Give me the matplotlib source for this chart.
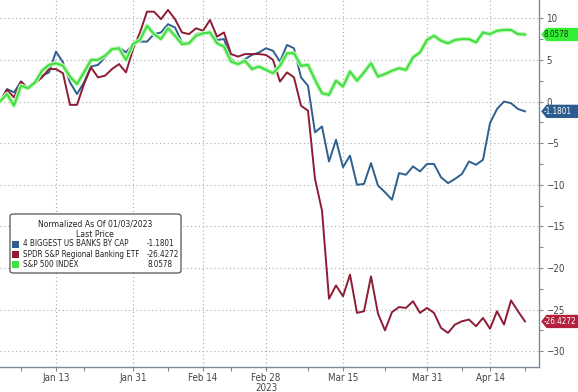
import numpy as np
import pandas as pd
import matplotlib
matplotlib.use('Agg')
import matplotlib.pyplot as plt
from matplotlib.patches import Polygon, FancyBboxPatch, Rectangle
from matplotlib.transforms import blended_transform_factory

# narrow type, close to the terminal look
plt.rcParams['font.family'] = ['Liberation Sans Narrow', 'DejaVu Sans']
plt.rcParams['font.stretch'] = 'condensed'

# trading days 2023-01-03 .. 2023-04-21
dates = pd.bdate_range('2023-01-03', '2023-04-21')
holidays = pd.to_datetime(['2023-01-16', '2023-02-20', '2023-04-07'])
dates = dates[~dates.isin(holidays)]

banks4 = [0.0, 1.5, 1.1, 2.4, 1.6, 2.3, 3.1, 3.5, 6.0, 4.7,
          2.3, 0.9, 2.3, 4.2, 4.4, 5.3, 6.2, 6.5, 5.9, 6.9,
          7.2, 7.2, 8.1, 8.3, 9.3, 8.9, 7.1, 7.0, 8.1, 8.3,
          8.4, 7.4, 7.5, 5.1, 4.5, 5.1, 5.6, 5.9, 6.4, 6.1,
          4.8, 6.8, 6.4, 2.9, 1.9, -3.7, -3.0, -7.2, -4.6, -7.9,
          -6.5, -10.0, -9.9, -7.4, -10.1, -10.9, -11.8, -8.6, -8.8, -7.8,
          -8.4, -7.5, -7.5, -9.1, -9.8, -9.3, -8.7, -7.2, -7.6, -7.0,
          -2.6, -0.9, 0.0, -0.2, -0.9, -1.1801]
kre = [0.0, 1.4, 0.5, 2.4, 1.5, 2.2, 2.9, 3.9, 3.9, 3.4,
       -0.4, -0.4, 2.1, 4.1, 2.9, 3.1, 3.9, 4.5, 3.5, 6.3,
       8.3, 10.8, 10.8, 9.9, 11.0, 9.9, 8.3, 8.1, 8.8, 8.5,
       9.8, 7.8, 8.3, 5.7, 5.4, 5.7, 5.7, 5.7, 5.6, 5.0,
       2.4, 3.5, 2.9, -0.5, -1.1, -9.3, -13.1, -23.7, -22.1, -23.4,
       -20.8, -25.4, -25.2, -21.0, -25.5, -27.5, -25.3, -24.7, -24.8, -24.0,
       -25.4, -24.8, -25.4, -27.2, -27.8, -26.8, -26.4, -26.2, -27.0, -26.0,
       -27.3, -25.2, -26.8, -23.9, -25.2, -26.4272]
spx = [0.0, 0.9, -0.5, 1.9, 1.6, 2.3, 3.7, 4.4, 4.6, 4.3,
       3.0, 2.1, 3.5, 5.0, 5.0, 5.5, 6.3, 6.4, 5.0, 6.9,
       7.4, 9.1, 8.1, 7.5, 8.8, 7.9, 6.9, 7.0, 7.9, 8.2,
       8.3, 7.0, 6.6, 4.8, 4.5, 4.9, 3.9, 4.2, 3.8, 3.4,
       4.3, 5.8, 5.8, 4.3, 4.4, 2.6, 1.0, 0.8, 2.5, 1.8,
       3.6, 2.5, 3.5, 4.6, 3.0, 3.3, 3.7, 4.0, 3.8, 5.3,
       5.9, 7.4, 7.9, 7.3, 7.0, 7.4, 7.5, 7.5, 7.1, 8.3,
       8.1, 8.5, 8.6, 8.6, 8.1, 8.0578]

names = ['4 BIGGEST US BANKS BY CAP', 'SPDR S&P Regional Banking ETF', 'S&P 500 INDEX']
last = ['-1.1801', '-26.4272', '8.0578']
colors = ['#2f5f8e', '#8c1d35', '#3fe03f']
tag_colors = ['#2b5d8f', '#b41f3c', '#33ee33']
tag_text = ['white', 'white', '#123812']

tick_dates = ['2023-01-13', '2023-01-31', '2023-02-14', '2023-02-28',
              '2023-03-15', '2023-03-31', '2023-04-14']
tick_labels = ['Jan 13', 'Jan 31', 'Feb 14', 'Feb 28\n2023', 'Mar 15', 'Mar 31', 'Apr 14']
minor_dates = ['2023-01-06', '2023-01-20', '2023-02-07', '2023-02-21',
               '2023-03-08', '2023-03-23', '2023-04-10', '2023-04-21']

x = np.arange(len(dates))
W, H = 578, 392

fig = plt.figure(figsize=(W / 100, H / 100), dpi=100)
ax = fig.add_axes([0, 1 - 367 / H, 539 / W, 367 / H])

ax.plot(x, banks4, color=colors[0], lw=1.4, zorder=3)
ax.plot(x, kre, color=colors[1], lw=1.4, zorder=3)
ax.plot(x, spx, color='#c4f5bc', lw=3.2, zorder=4, solid_capstyle='round')
ax.plot(x, spx, color=colors[2], lw=1.5, zorder=5)

ax.set_xlim(0, 77)
ax.set_ylim(-31.9, 12.2)

pos = [dates.get_loc(pd.Timestamp(d)) for d in tick_dates]
ax.set_xticks(pos)
ax.set_xticklabels(tick_labels, linespacing=1.0)
ax.set_xticks([dates.get_loc(pd.Timestamp(d)) for d in minor_dates], minor=True)
ax.set_yticks(np.arange(-30, 11, 5))
ax.set_yticks(np.arange(-27.5, 11, 5), minor=True)
ax.yaxis.tick_right()

ax.grid(True, which='major', color='#a8a8a8', lw=0.8, linestyle=(0, (1, 2.5)))
ax.tick_params(axis='both', which='both', labelsize=7, colors='#7d8a96',
               labelcolor='#444444', length=3, width=0.8)
ax.tick_params(axis='y', pad=2)
ax.tick_params(axis='x', pad=1.5)
for s in ['top', 'left']:
    ax.spines[s].set_visible(False)
for s in ['right', 'bottom']:
    ax.spines[s].set_color('#7d8a96')
    ax.spines[s].set_linewidth(1.0)

# last value tags on the right axis
tr = blended_transform_factory(ax.transAxes, ax.transData)
for val, c, tc, lab in zip([banks4[-1], kre[-1], spx[-1]], tag_colors, tag_text, last):
    h = 0.8
    poly = Polygon([[1.004, val], [1.014, val + h], [1.09, val + h],
                    [1.09, val - h], [1.014, val - h]],
                   closed=True, transform=tr, facecolor=c, edgecolor='none',
                   clip_on=False, zorder=6)
    ax.add_patch(poly)
    ax.text(1.009, val - 0.05, lab, transform=tr, fontsize=5.9, color=tc,
            va='center', ha='left', clip_on=False, zorder=7)

# legend box
def fx(px):
    return px / W

def fy(py):
    return 1 - py / H

box = FancyBboxPatch((fx(10), fy(273)), fx(171), (273 - 214) / H,
                     boxstyle='round,pad=0,rounding_size=0.006',
                     transform=fig.transFigure, facecolor='white',
                     edgecolor='#555555', lw=0.9, zorder=8)
fig.patches.append(box)
fs = 6.2
fig.text(fx(95), fy(224), 'Normalized As Of 01/03/2023', fontsize=fs,
         ha='center', va='center', color='#222222', zorder=9)
fig.text(fx(95), fy(234), 'Last Price', fontsize=fs,
         ha='center', va='center', color='#222222', zorder=9)
for k, (n, v, c) in enumerate(zip(names, last, colors)):
    yy = 244 + k * 10.3
    fig.patches.append(Rectangle((fx(12.5), fy(yy + 3.5)), fx(7), 7 / H,
                                 transform=fig.transFigure, facecolor=c,
                                 edgecolor='none', zorder=9))
    fig.text(fx(23), fy(yy), n, fontsize=5.8, ha='left', va='center',
             color='#222222', zorder=9)
    fig.text(fx(147), fy(yy), v, fontsize=5.8, ha='left', va='center',
             color='#222222', zorder=9)

fig.savefig('out.png', dpi=100)
